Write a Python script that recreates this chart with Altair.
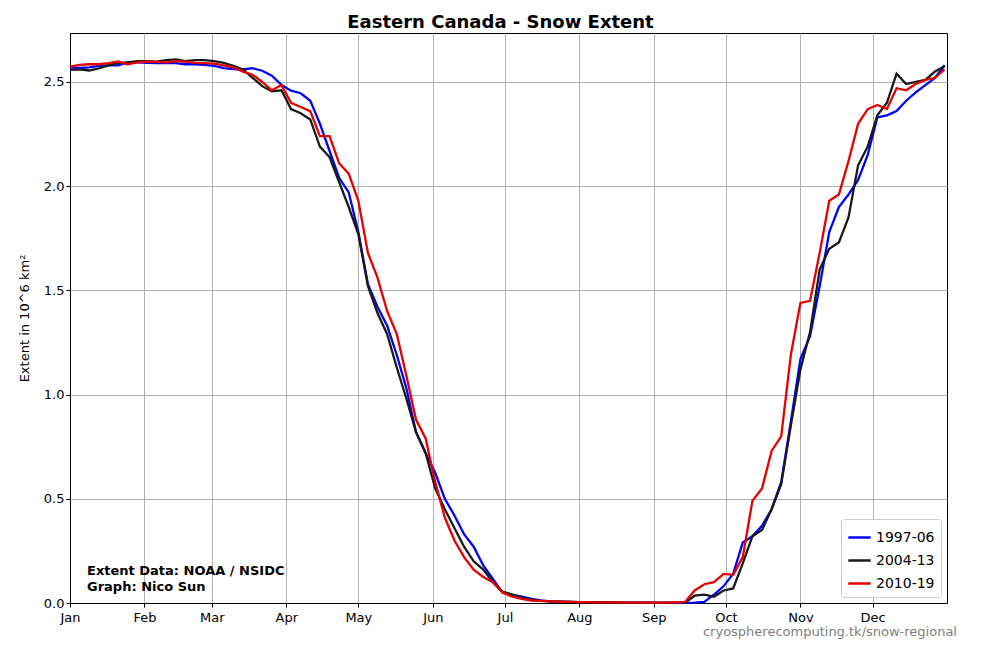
import altair as alt
import pandas as pd

days = list(range(0, 365, 4))

blue_1997_06 = [
    2.57, 2.567, 2.57, 2.577, 2.58, 2.58, 2.594, 2.594, 2.592, 2.59,
    2.59, 2.59, 2.585, 2.585, 2.582, 2.577, 2.566, 2.562, 2.56, 2.566,
    2.554, 2.53, 2.486, 2.458, 2.446, 2.41, 2.30, 2.17, 2.04, 1.97,
    1.78, 1.53, 1.42, 1.33, 1.19, 1.03, 0.82, 0.72, 0.625, 0.50,
    0.42, 0.33, 0.27, 0.18, 0.115, 0.05, 0.04, 0.03, 0.02, 0.012,
    0.008, 0.006, 0.005, 0.004, 0.004, 0.003, 0.003, 0.002, 0.002, 0.002,
    0.001, 0.001, 0.001, 0.001, 0.001, 0.002, 0.005, 0.04, 0.08, 0.14,
    0.29, 0.32, 0.37, 0.45, 0.58, 0.87, 1.17, 1.28, 1.52, 1.78,
    1.90, 1.96, 2.03, 2.15, 2.33, 2.34, 2.36, 2.41, 2.45, 2.485,
    2.52, 2.58,
]

black_2004_13 = [
    2.558, 2.56, 2.555, 2.565, 2.58, 2.59, 2.594, 2.60, 2.60, 2.598,
    2.605, 2.608, 2.60, 2.605, 2.605, 2.60, 2.592, 2.578, 2.56, 2.52,
    2.48, 2.455, 2.46, 2.37, 2.35, 2.32, 2.19, 2.14, 2.02, 1.90,
    1.77, 1.52, 1.39, 1.29, 1.13, 0.98, 0.82, 0.72, 0.55, 0.45,
    0.36, 0.27, 0.20, 0.16, 0.10, 0.055, 0.04, 0.025, 0.015, 0.01,
    0.008, 0.006, 0.005, 0.004, 0.003, 0.003, 0.003, 0.002, 0.002, 0.002,
    0.002, 0.002, 0.002, 0.002, 0.002, 0.035, 0.04, 0.03, 0.06, 0.07,
    0.19, 0.32, 0.35, 0.45, 0.57, 0.85, 1.12, 1.30, 1.60, 1.70,
    1.73, 1.85, 2.10, 2.19, 2.34, 2.40, 2.54, 2.49, 2.50, 2.51,
    2.55, 2.575,
]

red_2010_19 = [
    2.574, 2.582, 2.585, 2.585, 2.59, 2.598, 2.585, 2.594, 2.598, 2.596,
    2.594, 2.60, 2.598, 2.592, 2.59, 2.588, 2.58, 2.57, 2.55, 2.535,
    2.50, 2.46, 2.485, 2.40, 2.38, 2.36, 2.24, 2.24, 2.11, 2.06,
    1.93, 1.68, 1.56, 1.40, 1.29, 1.09, 0.88, 0.79, 0.58, 0.41,
    0.30, 0.22, 0.16, 0.125, 0.10, 0.05, 0.03, 0.02, 0.012, 0.01,
    0.008, 0.006, 0.005, 0.004, 0.004, 0.003, 0.003, 0.003, 0.002, 0.002,
    0.002, 0.002, 0.002, 0.003, 0.005, 0.06, 0.09, 0.10, 0.14, 0.135,
    0.22, 0.49, 0.55, 0.73, 0.80, 1.19, 1.44, 1.45, 1.68, 1.93,
    1.96, 2.12, 2.30, 2.37, 2.39, 2.37, 2.47, 2.46, 2.49, 2.51,
    2.52, 2.56,
]

series_names = ["1997-06", "2004-13", "2010-19"]
series_colors = ["#0000ff", "#1a1a1a", "#e60000"]
month_starts = [0, 31, 59, 90, 120, 151, 181, 212, 243, 273, 304, 334]
month_labels = ["Jan", "Feb", "Mar", "Apr", "May", "Jun",
                "Jul", "Aug", "Sep", "Oct", "Nov", "Dec"]
y_ticks = [0.0, 0.5, 1.0, 1.5, 2.0, 2.5]
credit_line_1 = "Extent Data: NOAA / NSIDC"
credit_line_2 = "Graph: Nico Sun"
watermark = "cryospherecomputing.tk/snow-regional"

rows = []
for name, vals in zip(series_names, [blue_1997_06, black_2004_13, red_2010_19]):
    for d, v in zip(days, vals):
        rows.append({"day": d, "extent": v, "series": name})
df = pd.DataFrame(rows)

label_expr = ("[" + ",".join("'%s'" % m for m in month_labels) + "][indexof(["
              + ",".join(str(m) for m in month_starts) + "], datum.value)]")

lines = alt.Chart(df).mark_line(strokeWidth=2.3).encode(
    x=alt.X("day:Q", scale=alt.Scale(domain=[0, 365], nice=False, zero=False),
            axis=alt.Axis(values=month_starts, labelExpr=label_expr, title=None,
                          labelPadding=4, labelFlush=False)),
    y=alt.Y("extent:Q", scale=alt.Scale(domain=[0, 2.735], nice=False),
            axis=alt.Axis(values=y_ticks, format=".1f",
                          title="Extent in 10^6 km²", titlePadding=12,
                          titleFontWeight="normal", titleFontSize=13,
                          labelFlush=False)),
    color=alt.Color("series:N",
                    scale=alt.Scale(domain=series_names, range=series_colors),
                    legend=alt.Legend(title=None, orient="bottom-right",
                                      offset=6, symbolType="stroke",
                                      symbolStrokeWidth=2.5, symbolSize=500,
                                      labelFontSize=14, fillColor="white",
                                      strokeColor="#cccccc", padding=6,
                                      cornerRadius=3, rowPadding=3)),
    detail="series:N",
)

def text_layer(txt, x, y, align, weight, color):
    return alt.Chart(pd.DataFrame({"t": [txt]})).mark_text(
        align=align, baseline="middle", fontWeight=weight, fontSize=13,
        font="DejaVu Sans", color=color
    ).encode(text="t:N", x=alt.value(x), y=alt.value(y))

credit1 = text_layer(credit_line_1, 17, 538, "left", "bold", "black")
credit2 = text_layer(credit_line_2, 17, 554, "left", "bold", "black")
wm = text_layer(watermark, 887, 599, "right", "normal", "#808080")

chart = alt.layer(lines, credit1, credit2, wm).properties(
    width=877, height=570,
    title=alt.TitleParams("Eastern Canada - Snow Extent", fontSize=18,
                          fontWeight="bold", font="DejaVu Sans", dx=-8,
                          offset=1),
    autosize=alt.AutoSizeParams(type="none"),
    padding={"left": 62, "top": 25, "right": 45, "bottom": 39},
).configure_axis(
    labelFont="DejaVu Sans", labelFontSize=13, labelColor="black",
    titleFont="DejaVu Sans", titleColor="black",
    tickColor="black", domainColor="black", tickSize=4,
    gridColor="#b0b0b0", gridWidth=1,
).configure_legend(labelFont="DejaVu Sans", labelColor="black").configure_view(
    stroke="black", strokeWidth=1
)

chart.save("out.html", embed_options={"renderer": "svg", "actions": False})
